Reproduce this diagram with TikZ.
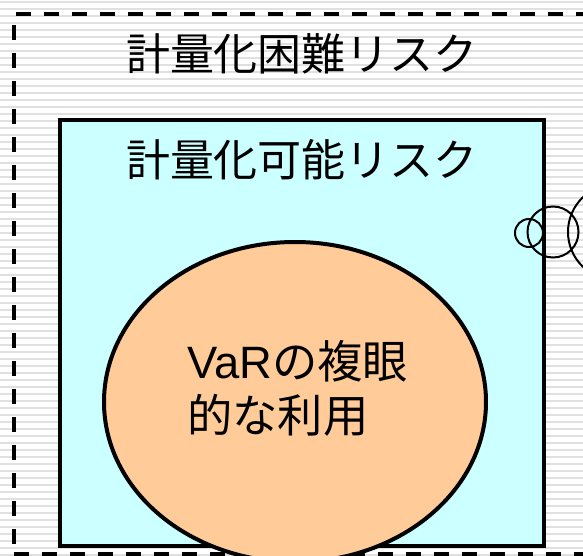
\documentclass[tikz,border=0pt]{standalone}
\usepackage{fontspec}
\usetikzlibrary{shapes.geometric}
\setmainfont{Noto Sans CJK JP}
\newfontfamily\latinfont{Liberation Sans}
\definecolor{cyanfill}{HTML}{CCFFFF}
\definecolor{peach}{HTML}{FFCC99}
\definecolor{stripegray}{HTML}{E0E0E0}
\begin{document}
\begin{tikzpicture}[x=0.75pt,y=-0.75pt,
  stripe/.style={draw=stripegray,line width=1.6pt},
  outerbox/.style={draw=black,line width=2.5pt,dash pattern=on 11.5pt off 9.5pt},
  innerbox/.style={draw=black,line width=3pt,fill=cyanfill},
  ovalbox/.style={draw=black,line width=3pt,fill=peach},
  ring/.style={draw=black,line width=1.5pt,circle,inner sep=0pt},
  titletext/.style={font=\fontsize{33}{40}\selectfont,inner sep=0pt},
  bodytext/.style={font=\fontsize{34}{40.5}\selectfont,inner sep=0pt,align=left}]
\useasboundingbox (0,0) rectangle (583,556);
\clip (0,0) rectangle (583,556);
\fill[white] (0,0) rectangle (583,556);
\foreach \yy in {2,9,...,560} \draw[stripe] (0,\yy) -- (583,\yy);
% outer dashed region
\draw[outerbox] (14,600) -- (14,14) -- (620,14);
\draw[outerbox] (14,554) -- (620,554);
\coordinate (outerNW) at (14,14);
\node[titletext] (t1) at (302,54) {計量化困難リスク};
% inner box
\draw[innerbox] (60,120) rectangle (544,546);
\coordinate (innerNW) at (60,120);
\node[titletext] (t2) at (302,160) {計量化可能リスク};
% ellipse
\node[ovalbox,ellipse,minimum width=382*0.75pt,minimum height=320*0.75pt,inner sep=0pt] (ell) at (295,402) {};
\node[bodytext,anchor=west] (t3) at (187,388) {{\latinfont VaR}の複眼\\的な利用};
% circles
\node[ring,minimum size=28*0.75pt] (c1) at (529,233) {};
\node[ring,minimum size=51*0.75pt] (c2) at (553,232) {};
\node[ring,minimum size=96*0.75pt] (c3) at (616,232) {};
\end{tikzpicture}
\end{document}
